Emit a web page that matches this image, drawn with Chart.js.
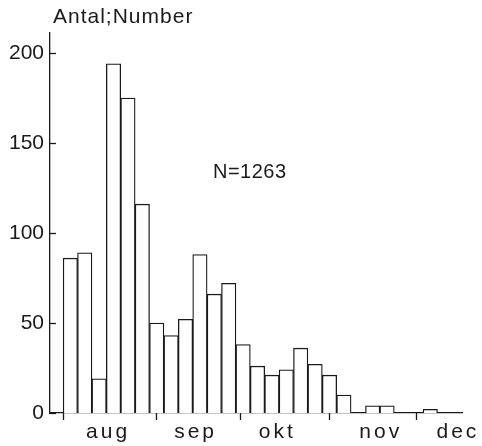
<!DOCTYPE html>
<html><head><meta charset="utf-8">
<script src="https://cdn.jsdelivr.net/npm/chart.js@4"></script>
<style>html,body{margin:0;padding:0;background:#fff}#wrap{width:482px;height:446px}</style>
</head><body><div id="wrap"><canvas id="c" width="482" height="446"></canvas></div>
<script>
// Counts per 5-day period, starting at 1 August
const counts = [86, 89, 19, 194, 175, 116, 50, 43, 52, 88, 66, 72, 38, 26, 21, 24, 36, 27, 21, 10, 0, 4, 4, 0, 0, 2];
// Month boundaries and label centres, in period units
const monthBoundaries = [0, 6.48, 12.31, 18.49, 24.48];
const monthLabelPos = [3.12, 9.2, 14.87, 22.06, 27.42];
const monthLabels = ['aug', 'sep', 'okt', 'nov', 'dec'];
const yTicks = [0, 50, 100, 150, 200];
const yAxisTitle = 'Antal;Number';
const annotationText = 'N=1263';
const xRange = [-0.913, 27.71];
const yRange = [0, 211.1];

const FONT = "'Liberation Sans', Arial, sans-serif";
const INK = '#1a1a1a';

const spacingPlugin = {
  id: 'spacing',
  afterDatasetsDraw(chart) { chart.ctx.letterSpacing = '3px'; },
  afterDraw(chart) {
    const ctx = chart.ctx;
    ctx.letterSpacing = '0px';
    const ys = chart.scales.y, xs = chart.scales.x;
    const left = chart.chartArea.left, bottom = chart.chartArea.bottom;
    ctx.save();
    ctx.strokeStyle = INK;
    ctx.lineWidth = 1.3;
    yTicks.forEach(v => {
      const y = Math.round(ys.getPixelForValue(v)) + 0.5;
      ctx.beginPath(); ctx.moveTo(left, y); ctx.lineTo(left + 6, y); ctx.stroke();
    });
    monthBoundaries.forEach(v => {
      const x = Math.round(xs.getPixelForValue(v)) + 0.5;
      ctx.beginPath(); ctx.moveTo(x, bottom); ctx.lineTo(x, bottom + 7); ctx.stroke();
    });
    ctx.fillStyle = INK;
    ctx.textBaseline = 'alphabetic';
    ctx.textAlign = 'left';
    ctx.font = '21px ' + FONT;
    ctx.letterSpacing = '1px';
    ctx.fillText(yAxisTitle, 53, 23);
    ctx.font = '20px ' + FONT;
    ctx.letterSpacing = '0.5px';
    ctx.fillText(annotationText, 213, 178);
    ctx.letterSpacing = '0px';
    ctx.restore();
  }
};

new Chart(document.getElementById('c'), {
  type: 'bar',
  data: {
    datasets: [{
      data: counts.map((c, i) => ({ x: i + 0.5, y: c })),
      backgroundColor: '#ffffff',
      borderColor: INK,
      borderWidth: 1.3,
      borderSkipped: 'start',
      barPercentage: 1,
      categoryPercentage: 1
    }]
  },
  options: {
    responsive: false,
    animation: false,
    devicePixelRatio: 1,
    layout: { autoPadding: false, padding: { top: 33, right: 15, left: 0, bottom: 0 } },
    plugins: { legend: { display: false }, tooltip: { enabled: false }, title: { display: false } },
    scales: {
      x: {
        type: 'linear',
        min: xRange[0], max: xRange[1],
        offset: false,
        border: { display: true, color: INK, width: 1.3 },
        grid: { display: false, drawOnChartArea: false, drawTicks: false },
        afterBuildTicks: s => { s.ticks = monthLabelPos.map(v => ({ value: v })); },
        afterFit: s => { s.height = 33; },
        ticks: {
          z: 1,
          autoSkip: false, maxRotation: 0, minRotation: 0, padding: 7,
          color: INK, font: { size: 21, family: FONT },
          callback: v => { const i = monthLabelPos.indexOf(v); return i >= 0 ? monthLabels[i] : ''; }
        }
      },
      y: {
        type: 'linear',
        min: yRange[0], max: yRange[1],
        border: { display: true, color: INK, width: 1.3 },
        grid: { display: false, drawTicks: false },
        afterBuildTicks: s => { s.ticks = yTicks.map(v => ({ value: v })); },
        afterFit: s => { s.width = 50; },
        ticks: { padding: 6, color: INK, font: { size: 21, family: FONT } }
      }
    }
  },
  plugins: [spacingPlugin]
});
</script></body></html>
